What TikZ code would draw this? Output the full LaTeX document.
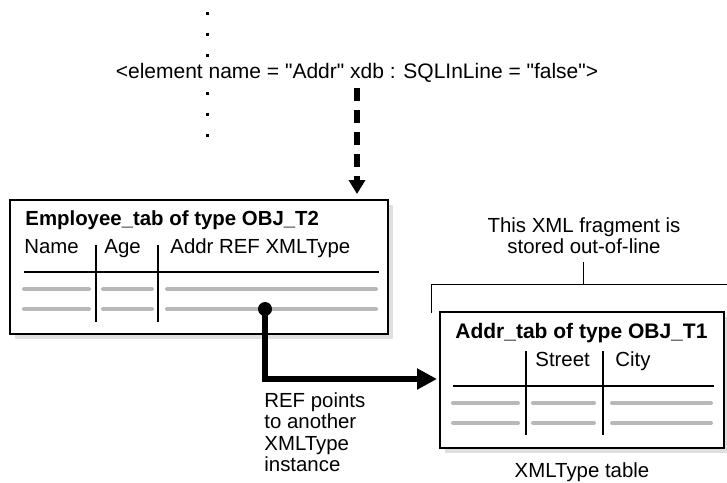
\documentclass[tikz,border=0pt]{standalone}
\usepackage{fontspec}
\setmainfont{Liberation Sans}[Ligatures=TeXOff]
\usetikzlibrary{arrows.meta}

\tikzset{
  txt/.style={inner sep=0pt, font=\fontsize{10.2}{10.6}\selectfont},
  boxline/.style={line width=1pt},
  colline/.style={line width=0.75pt},
  rowline/.style={line width=2pt, line cap=round, color=black!28},
  shadowbox/.style={fill=black!12, draw=none},
  refline/.style={line width=2.6pt, -{Triangle[length=10pt,width=10pt]}},
}

\begin{document}
\begin{tikzpicture}[x=0.5pt, y=-0.5pt]
            \useasboundingbox (0,0) rectangle (727,482);

            % Drawing the dots round the element line
            \foreach \dy in {13,34,55,93,114,135}
              \fill (205.5,\dy-1.5) rectangle (208.5,\dy+1.5);%

            \node [txt, anchor=base, font=\fontsize{10.5}{11}\selectfont] (elem) at (357,78) {<element name = "Addr" xdb : SQLInLine = "false">};%

            % Drawing table Employee_tab
            \fill [shadowbox] (15,205) rectangle (393,339);%
            \draw [boxline, fill=white] (10,200) rectangle (388,334);%
            \node [txt, anchor=base west, font=\fontsize{10.2}{10.6}\selectfont\bfseries] (emptitle) at (25,225) {Employee\_tab of type OBJ\_T2};%
            \node [txt, anchor=base west] (empname) at (24,253) {Name};%
            \node [txt, anchor=base west] (empage) at (104,253) {Age};%
            \node [txt, anchor=base west] (empaddr) at (170,253) {Addr REF XMLType};%
            \draw [colline] (96,245) -- (96,322);%
            \draw [colline] (158,245) -- (158,322);%
            \draw [colline] (24,272) -- (379,272);%
            \foreach \ry in {289,309} {
              \draw [rowline] (24,\ry) -- (89,\ry);%
              \draw [rowline] (103,\ry) -- (152,\ry);%
              \draw [rowline] (167,\ry) -- (376,\ry);%
            }

            % Drawing table Addr_tab
            \fill [shadowbox] (445,317) rectangle (729,453);%
            \draw [boxline, fill=white] (440,312) rectangle (724,448);%
            \node [txt, anchor=base west, font=\fontsize{10.5}{11}\selectfont\bfseries] (addrtitle) at (455,338) {Addr\_tab of type OBJ\_T1};%
            \node [txt, anchor=base west] (addrstreet) at (535,366) {Street};%
            \node [txt, anchor=base west] (addrcity) at (615,366) {City};%
            \draw [colline] (526,351) -- (526,435);%
            \draw [colline] (603,351) -- (603,435);%
            \draw [colline] (453,386) -- (714,386);%
            \foreach \ry in {403,423} {
              \draw [rowline] (453,\ry) -- (518,\ry);%
              \draw [rowline] (533,\ry) -- (594,\ry);%
              \draw [rowline] (612,\ry) -- (711,\ry);%
            }
            \node [txt, anchor=base] (addrcap) at (582,477) {XMLType table};%

            % Marking the out-of-line fragment
            \draw [line width=0.5pt] (431,313) -- (431,284) -- (727,284);%
            \draw [line width=0.5pt] (583,262) -- (583,284);%
            \node [txt, anchor=base] (fragA) at (584,232) {This XML fragment is};%
            \node [txt, anchor=base] (fragB) at (584,253) {stored out-of-line};%

            % Drawing dashed arrow from element to table
            \coordinate (dashtop) at (357,88);%
            \coordinate (dashend) at (357,194);%
            \draw [line width=2.6pt, dash pattern=on 6.5pt off 4.5pt, -{Triangle[length=7pt,width=8pt]}] (dashtop) -- (dashend);%

            % Drawing REF pointer
            \coordinate (refdot) at (265,309);%
            \coordinate (reftip) at (437,379);%
            \fill (refdot) circle (3.5pt);%
            \draw [refline] (refdot) |- (reftip);%
            \node [txt, anchor=north west, align=left, font=\fontsize{10.2}{10.8}\selectfont] (refnote) at (264,392) {REF points\\to another\\XMLType\\instance};%
\end{tikzpicture}
\end{document}
